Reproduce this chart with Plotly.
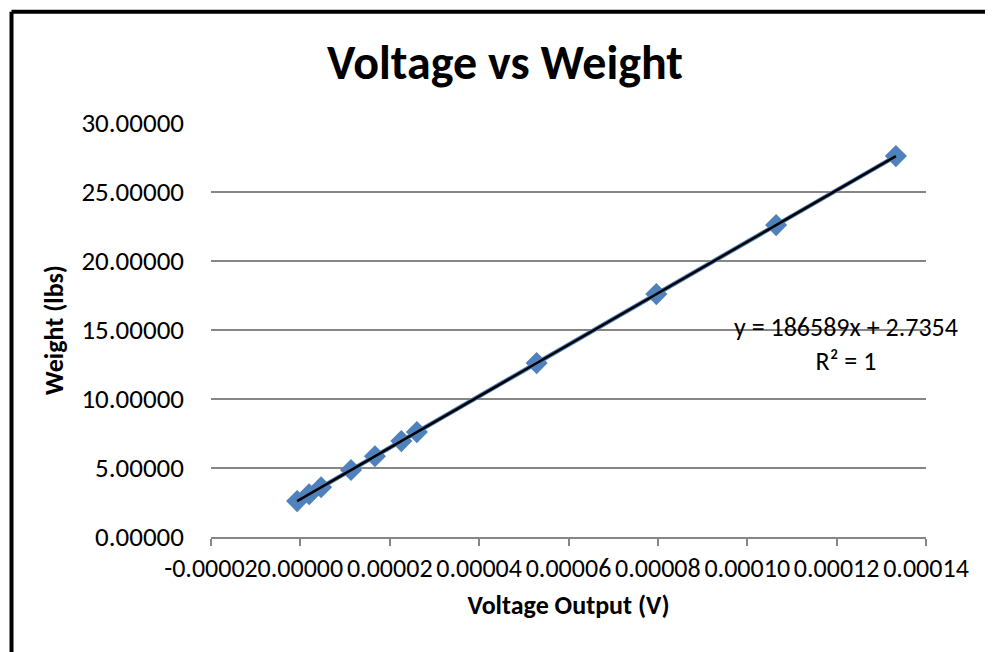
import plotly.graph_objects as go

# Data
voltage = [-7.3e-7, 1.95e-6, 4.63e-6, 1.133e-5, 1.669e-5, 2.259e-5, 2.607e-5,
           5.287e-5, 7.966e-5, 1.0646e-4, 1.3326e-4]
weight = [2.6, 3.1, 3.6, 4.85, 5.85, 6.95, 7.6, 12.6, 17.6, 22.6, 27.6]

# Linear trendline coefficients shown on the chart
slope = 186589
intercept = 2.7354
trend_label = ["y = 186589x + 2.7354", "R² = 1"]

x_tickvals = [-0.00002, 0.0, 0.00002, 0.00004, 0.00006, 0.00008, 0.00010, 0.00012, 0.00014]
x_ticktext = ["-0.00002", "0.00000", "0.00002", "0.00004", "0.00006",
              "0.00008", "0.00010", "0.00012", "0.00014"]
y_tickvals = [0, 5, 10, 15, 20, 25, 30]
y_ticktext = ["0.00000", "5.00000", "10.00000", "15.00000", "20.00000", "25.00000", "30.00000"]

FONT = "Carlito, Lato, sans-serif"
BLUE = "#4F81BD"
GRID = "#868686"

trend_x = [min(voltage), max(voltage)]
trend_y = [slope * v + intercept for v in trend_x]

fig = go.Figure()
fig.add_trace(go.Scatter(
    x=voltage, y=weight, mode="lines+markers",
    line=dict(color=BLUE, width=4.5),
    marker=dict(symbol="diamond", size=17, color=BLUE),
    showlegend=False, hoverinfo="skip"))
fig.add_trace(go.Scatter(
    x=trend_x, y=trend_y, mode="lines",
    line=dict(color="black", width=2.5),
    showlegend=False, hoverinfo="skip"))

fig.add_annotation(
    x=0.0001221, y=13.98, xref="x", yref="y",
    text=trend_label[0] + "<br>" + trend_label[1],
    showarrow=False, align="center",
    font=dict(family=FONT, size=26, color="black"))

# Chart-area border (top and left visible)
fig.add_shape(type="line", xref="paper", yref="paper",
              x0=-0.279, x1=1.094, y0=1.269, y1=1.269,
              line=dict(color="black", width=4))
fig.add_shape(type="line", xref="paper", yref="paper",
              x0=-0.279, x1=-0.279, y0=1.269, y1=-0.4,
              line=dict(color="black", width=4))

fig.update_layout(
    width=985, height=644,
    margin=dict(l=203, r=67, t=115, b=115),
    paper_bgcolor="white", plot_bgcolor="white",
    font=dict(family=FONT, color="black"),
    title=dict(text="<b>Voltage vs Weight</b>", x=497 / 985, xref="container",
               xanchor="center", y=1 - 54 / 644, yref="container", yanchor="middle",
               font=dict(family=FONT, size=48, color="black")),
    xaxis=dict(range=[-0.00002, 0.00014], tickvals=x_tickvals, ticktext=x_ticktext,
               tickangle=0, showgrid=False, zeroline=False,
               showline=True, linecolor=GRID, linewidth=1.5,
               ticks="outside", ticklen=7, tickcolor=GRID, tickwidth=1.5,
               tickfont=dict(family=FONT, size=26, color="black"),
               title=dict(text="<b>Voltage Output (V)</b>", standoff=13,
                          font=dict(family=FONT, size=26, color="black"))),
    yaxis=dict(range=[0, 30], tickvals=y_tickvals, ticktext=y_ticktext,
               showgrid=True, gridcolor=GRID, gridwidth=1.5, zeroline=False,
               showline=False, ticks="", ticklabelstandoff=26,
               tickfont=dict(family=FONT, size=27, color="black"),
               title=dict(text="<b>Weight (lbs)</b>", standoff=10,
                          font=dict(family=FONT, size=26, color="black"))),
)

fig.write_html("out.html")
